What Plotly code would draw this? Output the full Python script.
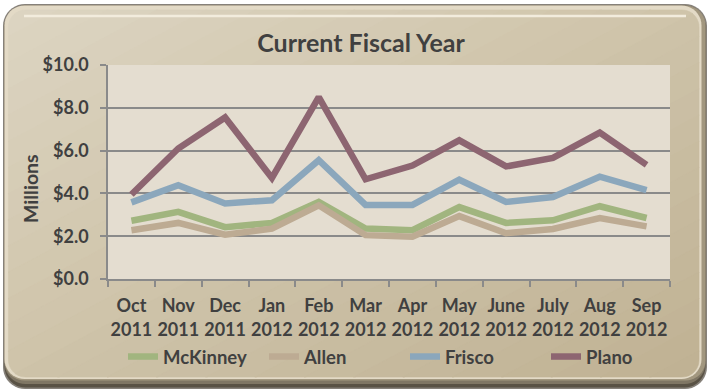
import plotly.graph_objects as go

# ---------------- data ----------------
months = ["Oct", "Nov", "Dec", "Jan", "Feb", "Mar", "Apr", "May", "June", "July", "Aug", "Sep"]
years = ["2011", "2011", "2011", "2012", "2012", "2012", "2012", "2012", "2012", "2012", "2012", "2012"]

series_names = ["McKinney", "Allen", "Frisco", "Plano"]
mckinney = [2.72, 3.14, 2.42, 2.62, 3.60, 2.36, 2.28, 3.36, 2.62, 2.74, 3.40, 2.85]
allen = [2.28, 2.62, 2.07, 2.35, 3.44, 2.05, 1.98, 2.94, 2.14, 2.34, 2.85, 2.46]
frisco = [3.58, 4.38, 3.53, 3.68, 5.55, 3.46, 3.46, 4.64, 3.60, 3.83, 4.78, 4.15]
plano = [3.95, 6.10, 7.55, 4.72, 8.50, 4.66, 5.30, 6.48, 5.26, 5.66, 6.84, 5.33]

y_tick_values = [0, 2, 4, 6, 8, 10]
y_tick_labels = ["$0.0", "$2.0", "$4.0", "$6.0", "$8.0", "$10.0"]

title_text = "Current Fiscal Year"
y_title_text = "Millions"

# ---------------- style ----------------
W, H = 708, 392
L, R, T, B = 108, 670, 65, 279
colors = ["#a1b57f", "#bdab93", "#8ba7bc", "#8d6571"]
FONT = "Lato"
TXT = "#404040"
GRID = "#8a8a8a"


def px(x):
    return (x - L) / (R - L)


def py(y):
    return (B - y) / (B - T)


def rrect_pts(x0, y0, x1, y1, r, n=10):
    import math
    pts = []
    corners = [(x1 - r, y0 + r, -90), (x1 - r, y1 - r, 0), (x0 + r, y1 - r, 90), (x0 + r, y0 + r, 180)]
    for cx, cy, a0 in corners:
        for i in range(n + 1):
            a = math.radians(a0 + 90 * i / n)
            pts.append((cx + r * math.cos(a), cy + r * math.sin(a)))
    return pts


def to_path(pts):
    s = "M %.5f,%.5f " % (px(pts[0][0]), py(pts[0][1]))
    for x, y in pts[1:]:
        s += "L %.5f,%.5f " % (px(x), py(y))
    return s + "Z"


def clip(poly, a, b, c):
    # keep a*x + b*y <= c
    out = []
    n = len(poly)
    for i in range(n):
        p = poly[i]
        q = poly[(i + 1) % n]
        fp = a * p[0] + b * p[1] - c
        fq = a * q[0] + b * q[1] - c
        if fp <= 0:
            out.append(p)
        if (fp <= 0) != (fq <= 0):
            t = fp / (fp - fq)
            out.append((p[0] + t * (q[0] - p[0]), p[1] + t * (q[1] - p[1])))
    return out


def mix(c1, c2, t):
    a = [int(c1[i:i + 2], 16) for i in (1, 3, 5)]
    b = [int(c2[i:i + 2], 16) for i in (1, 3, 5)]
    return "#%02x%02x%02x" % tuple(round(a[k] + (b[k] - a[k]) * t) for k in range(3))


shapes = []


def add_poly(pts, fill, line=None, lw=0):
    shapes.append(dict(type="path", xref="paper", yref="paper", path=to_path(pts),
                       fillcolor=fill, line=dict(color=line or fill, width=lw), layer="below"))


# frame layers
add_poly(rrect_pts(3, 4, 707, 389, 22), "#86817a")
add_poly(rrect_pts(4.5, 5.5, 705.5, 387.5, 21), "#595245")
add_poly(rrect_pts(4.5, 5.5, 705.5, 384, 21), "#7f7664")
add_poly(rrect_pts(4.5, 5.5, 705.5, 380.5, 20), "#a2977f")
add_poly(rrect_pts(4.5, 5.5, 701.5, 379, 20), "#e3dac6")

# face with diagonal gradient
fx0, fy0, fx1, fy1 = 8.5, 10, 699, 377
face = rrect_pts(fx0, fy0, fx1, fy1, 17)
nb = 28
c_tl, c_mid, c_br = "#ddd5c2", "#cec3a9", "#bfb193"
sx, sy = 1.0 / (fx1 - fx0), 1.0 / (fy1 - fy0)
for k in range(nb):
    t0, t1 = k / nb, (k + 1) / nb
    a, b = 0.5 * sx, 0.5 * sy
    off = 0.5 * fx0 * sx + 0.5 * fy0 * sy
    poly = clip(face, -a, -b, -(t0 + off) + (1e-4 if k > 0 else 10))
    poly = clip(poly, a, b, t1 + off + (1e-3 if k < nb - 1 else 10))
    if len(poly) < 3:
        continue
    tm = (t0 + t1) / 2
    col = mix(c_tl, c_mid, tm * 2) if tm < 0.5 else mix(c_mid, c_br, tm * 2 - 1)
    add_poly(poly, col, col, 0.6)

# top highlight
shapes.append(dict(type="line", xref="paper", yref="paper", x0=px(24), x1=px(686), y0=py(16), y1=py(16),
                   line=dict(color="#f2ecdd", width=2.5), layer="below"))

# plot background
shapes.append(dict(type="rect", xref="paper", yref="paper", x0=0, x1=1, y0=0, y1=1,
                   fillcolor="#e4ddd0", line=dict(width=0), layer="below"))

categories = [m + "<br>" + yv for m, yv in zip(months, years)]

fig = go.Figure()
for name, vals, col in zip(series_names, [mckinney, allen, frisco, plano], colors):
    fig.add_trace(go.Scatter(x=categories, y=vals, name=name, mode="lines",
                             line=dict(color=col, width=6.5)))

fig.update_layout(
    width=W, height=H,
    margin=dict(l=L, r=W - R, t=T, b=H - B),
    paper_bgcolor="white",
    plot_bgcolor="#e4ddd0",
    shapes=shapes,
    font=dict(family=FONT, color=TXT, size=18, weight="bold"),
    title=dict(text=title_text, x=361 / W, xanchor="center", y=1 - 43 / H, yanchor="middle",
               font=dict(family=FONT, size=25, color=TXT, weight="bold")),
    showlegend=True,
    legend=dict(orientation="h", xref="container", yref="container", x=(168 - 45) / W, xanchor="left",
                y=1 - 357 / H, yanchor="middle",
                entrywidth=96, entrywidthmode="pixels",
                bgcolor="rgba(0,0,0,0)", font=dict(family=FONT, size=18.5, color=TXT, weight="bold"),
                itemclick=False),
    annotations=[dict(text=y_title_text, xref="paper", yref="paper", x=px(30), y=py(189),
                      showarrow=False, textangle=-90, xanchor="center", yanchor="middle",
                      font=dict(family=FONT, size=19.5, color=TXT, weight="bold"))],
)

fig.update_xaxes(type="category", range=[-0.5, 11.5], tickson="boundaries", ticks="outside", ticklen=6,
                 tickcolor=GRID, tickwidth=1.5, showline=True, linecolor=GRID, linewidth=1.5, showgrid=False,
                 ticklabelstandoff=10, tickangle=0, automargin=False,
                 tickfont=dict(family=FONT, size=18, color=TXT, weight="bold"), fixedrange=True)
fig.update_yaxes(range=[0, 10], tickvals=y_tick_values, ticktext=y_tick_labels, ticks="outside",
                 ticklen=6, tickcolor=GRID, tickwidth=1.5, showline=True, linecolor=GRID, linewidth=1.5,
                 showgrid=True, gridcolor=GRID, gridwidth=1.5, zeroline=False, ticklabelstandoff=8,
                 automargin=False,
                 tickfont=dict(family=FONT, size=18, color=TXT, weight="bold"), fixedrange=True)

fig.write_html("out.html")
